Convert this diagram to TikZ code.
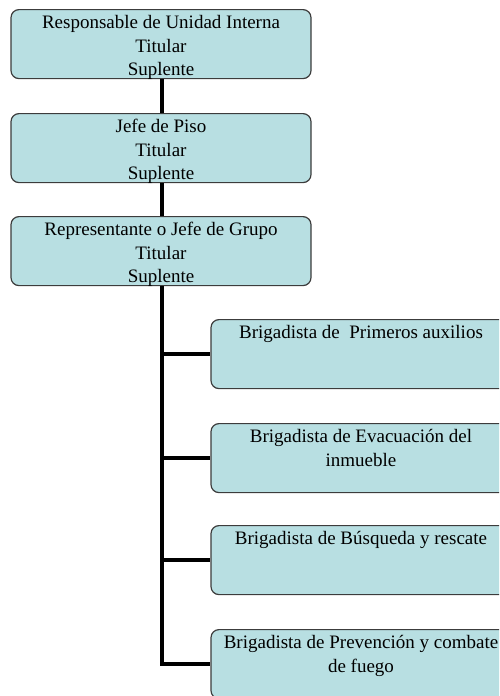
\documentclass[tikz,border=0pt]{standalone}
\usepackage{fontspec}
\setmainfont{Liberation Serif}
\usepackage{pgf,tikz}

\definecolor{cajafondo}{RGB}{184,223,226}
\definecolor{cajaborde}{RGB}{60,60,60}

\begin{document}
\begin{tikzpicture}
  [x=1pt,y=-1pt,
   caja/.style={rectangle, rounded corners=8pt, draw=cajaborde, fill=cajafondo, line width=1.2pt,
     inner sep=6pt, anchor=north, font=\fontsize{19}{23.5}\selectfont,
     execute at begin node={\begin{minipage}[t][57pt][t]{288pt}\centering},
     execute at end node={\end{minipage}}},
   linea/.style={line width=3.4pt, black}]

  \useasboundingbox (0,0) rectangle (499,696);
  \clip (0,0) rectangle (499,696);

  %%%%%%%%%%%%%%%%%%%%%% MANDO %%%%%%%%%%%%%%%%%%%%%%

  \node[caja] (rol_1) at (161,9)   {Responsable de Unidad Interna\\Titular\\Suplente};
  \node[caja] (rol_2) at (161,113) {Jefe de Piso\\Titular\\Suplente};
  \node[caja] (rol_3) at (161,216) {Representante o Jefe de Grupo\\Titular\\Suplente};

  %%%%%%%%%%%%%%%%%%%%%% BRIGADAS %%%%%%%%%%%%%%%%%%%%%%

  \node[caja] (brig_1) at (361,319) {Brigadista de~ Primeros auxilios};
  \node[caja] (brig_2) at (361,423) {Brigadista de Evacuación del\\inmueble};
  \node[caja] (brig_3) at (361,525) {Brigadista de Búsqueda y rescate};
  \node[caja] (brig_4) at (361,629) {Brigadista de Prevención y combate\\de fuego};

  \foreach \desde/\hasta in {rol_1/rol_2,rol_2/rol_3}
    \draw[linea] ([xshift=1pt]\desde.south) -- ([xshift=1pt]\hasta.north);

  \foreach \hasta in {brig_1,brig_2,brig_3,brig_4}
    \draw[linea] ([xshift=1pt]rol_3.south) |- (\hasta.west);

\end{tikzpicture}
\end{document}
